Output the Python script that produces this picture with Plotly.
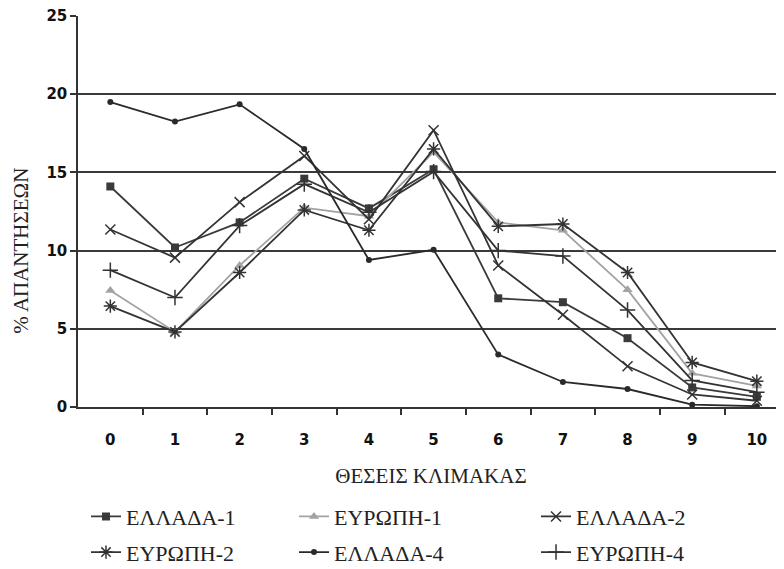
import plotly.graph_objects as go

categories = [0, 1, 2, 3, 4, 5, 6, 7, 8, 9, 10]
tick_labels = ["0", "1", "2", "3", "4", "5", "6", "7", "8", "9", "10"]

ellada_1 = [14.1, 10.2, 11.8, 14.6, 12.7, 15.2, 6.95, 6.7, 4.4, 1.25, 0.65]
evropi_1 = [7.45, 4.8, 9.05, 12.75, 12.2, 16.3, 11.8, 11.3, 7.5, 2.15, 1.35]
ellada_2 = [11.35, 9.55, 13.1, 16.05, 12.0, 17.7, 9.05, 5.9, 2.6, 0.8, 0.4]
evropi_2 = [6.45, 4.8, 8.6, 12.6, 11.3, 16.5, 11.55, 11.7, 8.6, 2.85, 1.65]
ellada_4 = [19.5, 18.25, 19.35, 16.5, 9.4, 10.05, 3.35, 1.6, 1.15, 0.15, 0.05]
evropi_4 = [8.75, 7.0, 11.6, 14.25, 12.45, 15.05, 10.0, 9.65, 6.2, 1.7, 0.95]

SERIF = "Liberation Serif, Times New Roman, Times, DejaVu Serif, serif"

series = [
    ("ΕΛΛΑΔΑ-1", ellada_1, "square", 8, "#3a3a3a", 0, "legend"),
    ("ΕΥΡΩΠΗ-1", evropi_1, "triangle-up", 9, "#a3a3a3", 0, "legend2"),
    ("ΕΛΛΑΔΑ-2", ellada_2, "x-thin-open", 10, "#333333", 1.5, "legend3"),
    ("ΕΥΡΩΠΗ-2", evropi_2, "asterisk-open", 11, "#333333", 1.5, "legend"),
    ("ΕΛΛΑΔΑ-4", ellada_4, "circle", 6, "#2a2a2a", 0, "legend2"),
    ("ΕΥΡΩΠΗ-4", evropi_4, "cross-thin-open", 11, "#333333", 1.5, "legend3"),
]

fig = go.Figure()
for name, vals, sym, size, col, lw, lg in series:
    fig.add_trace(go.Scatter(
        x=categories, y=vals, name=name, mode="lines+markers",
        line=dict(color=col, width=1.8),
        marker=dict(symbol=sym, size=size, color=col,
                    line=dict(color=col, width=lw)),
        legend=lg, legendgroup=name,
    ))

# invisible trace for gridline axis
fig.add_trace(go.Scatter(x=[categories[0]], y=[0], yaxis="y2", showlegend=False,
                         mode="markers", marker=dict(opacity=0), hoverinfo="skip"))

def legend_at(xpos):
    return dict(
        orientation="v", xref="container", yref="container",
        x=xpos, y=0.143, xanchor="left", yanchor="top",
        font=dict(family=SERIF, size=22, color="#222222"),
        bgcolor="rgba(0,0,0,0)", tracegroupgap=4,
    )

fig.update_layout(
    width=784, height=569,
    margin=dict(l=70, r=8, t=8, b=170, autoexpand=False),
    paper_bgcolor="white", plot_bgcolor="white",
    showlegend=True,
    xaxis=dict(
        range=[-0.5, 10.42], tickmode="array", tickvals=categories, ticktext=tick_labels,
        ticks="", showgrid=False, zeroline=False,
        showline=True, linecolor="#333333", linewidth=2,
        ticklabelstandoff=18,
        tickfont=dict(family="DejaVu Sans", size=15, color="#111111", weight="bold"),
        minor=dict(tickmode="array", tickvals=[c + 0.5 for c in categories[:-1]],
                   ticks="outside", ticklen=6, tickwidth=1.5, tickcolor="#333333", showgrid=False),
        title=dict(text="ΘΕΣΕΙΣ ΚΛΙΜΑΚΑΣ", standoff=20,
                   font=dict(family=SERIF, size=21, color="#222222")),
    ),
    yaxis=dict(
        range=[0, 25], tickmode="array", tickvals=[0, 5, 10, 15, 20, 25],
        ticks="outside", ticklen=6, tickwidth=1.5, tickcolor="#333333",
        showgrid=False, zeroline=False, ticklabeloverflow="allow",
        showline=True, linecolor="#333333", linewidth=1.5,
        tickfont=dict(family="DejaVu Sans", size=15, color="#111111", weight="bold"),
    ),
    yaxis2=dict(
        range=[0, 25], overlaying="y", tickmode="array", tickvals=[5, 10, 15, 20],
        showticklabels=False, ticks="", showgrid=True, gridcolor="#3a3a3a", gridwidth=1.6,
        zeroline=False, showline=False,
    ),
    annotations=[dict(
        text="% ΑΠΑΝΤΗΣΕΩΝ", textangle=-90, xref="paper", yref="paper",
        x=-0.082, y=0.40, xanchor="center", yanchor="middle", showarrow=False,
        font=dict(family=SERIF, size=21, color="#222222"),
    )],
    legend=legend_at(0.0995),
    legend2=legend_at(0.3648),
    legend3=legend_at(0.6735),
)

fig.write_html("out.html")
